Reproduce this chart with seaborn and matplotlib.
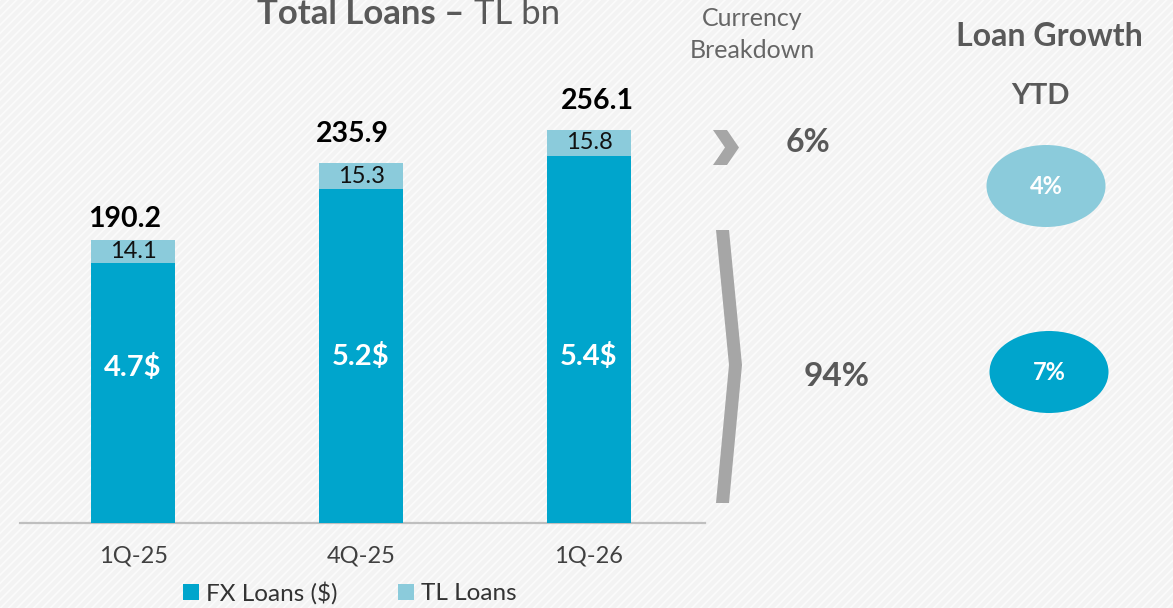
import matplotlib
matplotlib.use("Agg")
import matplotlib.pyplot as plt
import seaborn as sns
import pandas as pd
from matplotlib.patches import Rectangle, Ellipse, Polygon, Patch

# ---------------- data ----------------
quarters = ["1Q-25", "4Q-25", "1Q-26"]
fx_loans = [176.1, 220.6, 240.3]          # TL bn
tl_loans = [14.1, 15.3, 15.8]             # TL bn
fx_usd_labels = ["4.7$", "5.2$", "5.4$"]
breakdown_labels = ["6%", "94%"]
growth_labels = ["4%", "7%"]
legend_labels = ["FX Loans ($)", "TL Loans"]

totals = [a + b for a, b in zip(fx_loans, tl_loans)]
df = pd.DataFrame({"quarter": quarters, "fx": fx_loans, "tl": tl_loans, "total": totals})

# ---------------- style ----------------
sns.set_theme(style="white")
plt.rcParams["font.family"] = ["Lato", "DejaVu Sans"]
plt.rcParams["hatch.linewidth"] = 1.2

FX_C = "#00A5CC"
TL_C = "#8BCBDB"
GRAY_T = "#595959"
CHEV = "#A6A6A6"

W, H = 1173, 608
fig = plt.figure(figsize=(W / 100, H / 100), dpi=100)
fig.patch.set_facecolor("#F3F3F3")
fig.patches.append(Rectangle((0, 0), 1, 1, transform=fig.transFigure,
                             facecolor="#F3F3F3", edgecolor="#FBFBFB",
                             hatch="////", lw=0, zorder=-10))

# main bar axes
ax = fig.add_axes([20 / W, 85 / H, 685 / W, 423 / H])
ax.set_facecolor("none")
sns.barplot(data=df, x="quarter", y="total", color=TL_C, saturation=1,
            width=0.365, ax=ax, zorder=2, linewidth=0)
sns.barplot(data=df, x="quarter", y="fx", color=FX_C, saturation=1,
            width=0.365, ax=ax, zorder=3, linewidth=0)
ax.set_xlim(-0.496, 2.509)
ax.set_ylim(20.4, 273.9)
ax.set_xlabel("")
ax.set_ylabel("")
ax.set_yticks([])
for s in ["left", "right", "top"]:
    ax.spines[s].set_visible(False)
ax.spines["bottom"].set_color("#BFBFBF")
ax.spines["bottom"].set_linewidth(1.6)
ax.tick_params(axis="x", length=0, pad=16, labelsize=17, labelcolor="#404040")

# labels
total_dx = [-6, -6, 6]
total_dy = [15, 21, 21]
fx_label_y = [113.3, 119.9, 119.9]
for i in range(len(quarters)):
    ax.annotate(f"{totals[i]:.1f}", (i, totals[i]), xytext=(total_dx[i], total_dy[i]),
                textcoords="offset points", ha="center", va="center",
                fontsize=20.5, fontweight="bold", color="black")
    ax.text(i, fx_loans[i] + tl_loans[i] / 2, f"{tl_loans[i]:.1f}", ha="center",
            va="center", fontsize=17, color="#111111", zorder=5)
    ax.text(i, fx_label_y[i], fx_usd_labels[i], ha="center", va="center",
            fontsize=21, fontweight="bold", color="white", zorder=5)

# legend
handles = [Patch(facecolor=FX_C, edgecolor="none"), Patch(facecolor=TL_C, edgecolor="none")]
fig.legend(handles, legend_labels, loc="center", bbox_to_anchor=(350 / W, 1 - 593 / H),
           ncol=2, frameon=False, fontsize=17.5, handlelength=0.65, handleheight=0.65,
           handletextpad=0.3, columnspacing=2.5, labelcolor="#333333")

# overlay axes in pixel coordinates
ov = fig.add_axes([0, 0, 1, 1])
ov.set_xlim(0, W)
ov.set_ylim(H, 0)
ov.axis("off")
ov.patch.set_alpha(0)

ov.text(464, 24, "Total Loans \u2013", ha="right", va="baseline", fontsize=25,
        fontweight="bold", color=GRAY_T)
ov.text(474, 24, "TL bn", ha="left", va="baseline", fontsize=25, color=GRAY_T)

ov.text(752, 18, "Currency", ha="center", va="center", fontsize=18, color="#666666")
ov.text(752, 50, "Breakdown", ha="center", va="center", fontsize=18, color="#666666")
ov.text(1049, 36, "Loan Growth", ha="center", va="center", fontsize=23,
        fontweight="bold", color=GRAY_T)
ov.text(1040, 96, "YTD", ha="center", va="center", fontsize=21,
        fontweight="bold", color=GRAY_T)

ov.add_patch(Polygon([(713, 130), (727, 130), (739, 147.5), (727, 165), (713, 165),
                      (725, 147.5)], closed=True, facecolor=CHEV, edgecolor="none"))
ov.add_patch(Polygon([(716, 230), (729, 230), (742, 365), (729, 503), (716, 503),
                      (729, 365)], closed=True, facecolor=CHEV, edgecolor="none"))
ov.text(808, 142, breakdown_labels[0], ha="center", va="center", fontsize=23,
        fontweight="bold", color=GRAY_T)
ov.text(837, 377, breakdown_labels[1], ha="center", va="center", fontsize=24,
        fontweight="bold", color=GRAY_T)

ov.add_patch(Ellipse((1046, 186), 119, 82, facecolor=TL_C, edgecolor="none"))
ov.add_patch(Ellipse((1049, 372), 119, 82, facecolor=FX_C, edgecolor="none"))
ov.text(1046, 186, growth_labels[0], ha="center", va="center", fontsize=17,
        fontweight="bold", color="white")
ov.text(1049, 372, growth_labels[1], ha="center", va="center", fontsize=17,
        fontweight="bold", color="white")

fig.savefig("out.png", dpi=100)
